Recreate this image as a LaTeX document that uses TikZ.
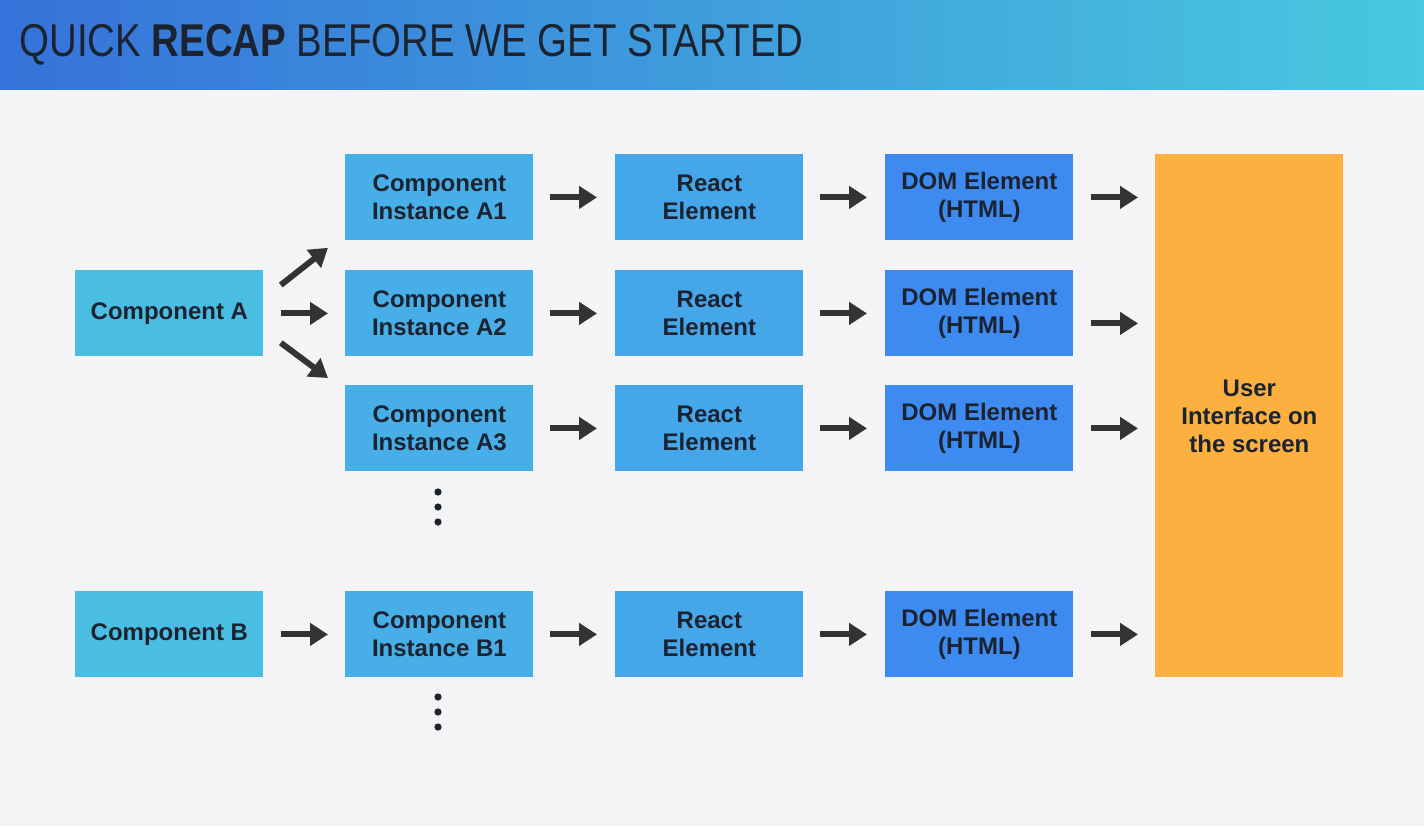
\documentclass[tikz,border=0pt]{standalone}
\usepackage{fontspec}
\setsansfont{Liberation Sans}
\newfontfamily\titlefont[FakeStretch=0.835]{Liberation Sans}
\usetikzlibrary{arrows.meta,calc}
\definecolor{slidebg}{HTML}{F4F4F6}
\definecolor{headleft}{HTML}{3672DA}
\definecolor{headright}{HTML}{48C9DF}
\definecolor{inkdark}{HTML}{1C2330}
\definecolor{compcyan}{HTML}{4ABEE2}
\definecolor{instblue}{HTML}{47AEE7}
\definecolor{reactblue}{HTML}{45A6EA}
\definecolor{domblue}{HTML}{3D8AF1}
\definecolor{uiorange}{HTML}{FBB040}
\definecolor{arrowgray}{HTML}{333333}

\begin{document}
\begin{tikzpicture}[
  x=0.5pt, y=-0.5pt,
  font=\sffamily,
  stagebox/.style={
    fill=#1,
    draw=none,
    minimum width=94pt,
    minimum height=43pt,
    inner sep=0pt,
    align=center,
    anchor=north west,
    text=inkdark,
    font=\sffamily\bfseries\fontsize{12}{14}\selectfont
  },
  flow/.style={
    draw=arrowgray,
    line width=3pt,
    -{Triangle[length=9pt,width=11pt]},
    shorten <=8.5pt,
    shorten >=8.5pt
  }
]

  % Slide background and header band
  \useasboundingbox (0,0) rectangle (1424,826);
  \fill[slidebg] (0,0) rectangle (1424,826);
  \shade[left color=headleft, right color=headright] (0,0) rectangle (1424,89);
  \node[anchor=base west, inner sep=0pt, text=inkdark, font=\titlefont\fontsize{23}{23}\selectfont] (title) at (19,56)
    {QUICK \textbf{RECAP} BEFORE WE GET STARTED};

  % Components
  \node[stagebox=compcyan] (compA) at (75,270) {Component A};
  \node[stagebox=compcyan] (compB) at (75,591) {Component B};

  % Component instances
  \node[stagebox=instblue] (instA1) at (345,154) {Component\\Instance A1};
  \node[stagebox=instblue] (instA2) at (345,270) {Component\\Instance A2};
  \node[stagebox=instblue] (instA3) at (345,385) {Component\\Instance A3};
  \node[stagebox=instblue] (instB1) at (345,591) {Component\\Instance B1};

  % React elements
  \node[stagebox=reactblue] (reA1) at (615,154) {React\\Element};
  \node[stagebox=reactblue] (reA2) at (615,270) {React\\Element};
  \node[stagebox=reactblue] (reA3) at (615,385) {React\\Element};
  \node[stagebox=reactblue] (reB1) at (615,591) {React\\Element};

  % DOM elements
  \node[stagebox=domblue] (domA1) at (885,154) {DOM Element\\(HTML)};
  \node[stagebox=domblue] (domA2) at (885,270) {DOM Element\\(HTML)};
  \node[stagebox=domblue] (domA3) at (885,385) {DOM Element\\(HTML)};
  \node[stagebox=domblue] (domB1) at (885,591) {DOM Element\\(HTML)};

  % User interface
  \node[stagebox=uiorange, minimum height=261.5pt] (ui) at (1155,154) {User\\Interface on\\the screen};

  % Component A fans out
  \draw[flow, shorten <=0pt, shorten >=0pt] ($(compA.north east)+(17,15)$) -- ($(instA1.south west)+(-17,7)$);
  \draw[flow] (compA) -- (instA2);
  \draw[flow, shorten <=0pt, shorten >=0pt] ($(compA.south east)+(17,-14)$) -- ($(instA3.north west)+(-17,-7)$);
  \draw[flow] (compB) -- (instB1);

  % Instances to React elements to DOM elements
  \foreach \row in {A1,A2,A3,B1} {
    \draw[flow, shorten <=8pt, shorten >=9pt] (inst\row) -- (re\row);
    \draw[flow, shorten <=8pt, shorten >=9pt] (re\row) -- (dom\row);
  }

  % DOM elements to the screen
  \draw[flow] (domA1) -- (domA1 -| ui.west);
  \draw[flow] ($(domA2.east)+(0,10)$) -- ($(domA2.east -| ui.west)+(0,10)$);
  \draw[flow] (domA3) -- (domA3 -| ui.west);
  \draw[flow] (domB1) -- (domB1 -| ui.west);

  % More instances
  \foreach \yy in {492,507,522,697,712,727}
    \fill[inkdark] (438,\yy) circle (1.8pt);

\end{tikzpicture}
\end{document}
